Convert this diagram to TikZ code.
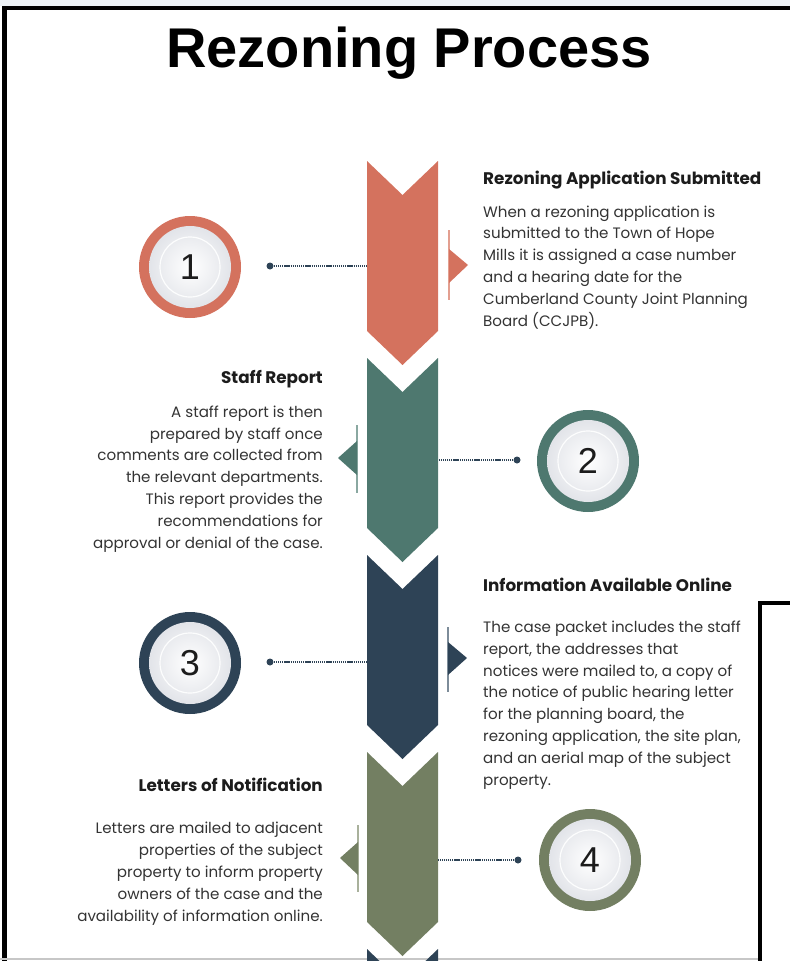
\documentclass[tikz,border=0pt]{standalone}
\usepackage{fontspec}
\setmainfont{Poppins}
\newfontfamily\titlefont{Liberation Sans}
\definecolor{corange}{HTML}{D4725E}
\definecolor{corangel}{HTML}{E39F90}
\definecolor{cteal}{HTML}{4E786F}
\definecolor{ctealL}{HTML}{8AA8A1}
\definecolor{cnavy}{HTML}{2E4356}
\definecolor{cnavyL}{HTML}{7D8C99}
\definecolor{colive}{HTML}{737F62}
\definecolor{coliveL}{HTML}{A9B19C}
\definecolor{ctext}{HTML}{333333}
\definecolor{chead}{HTML}{1C1C1C}
\definecolor{discgray}{HTML}{E2E4E9}
\definecolor{topstrip}{HTML}{EEF2F7}
\tikzset{
  ring/.style={circle, inner sep=0pt, minimum size=102pt, fill=#1},
  disc/.style={circle, inner sep=0pt, minimum size=82pt, shading=radial, inner color=white, outer color=discgray},
  innerring/.style={draw=white, line width=1.2pt, opacity=0.9},
  numtext/.style={font=\titlefont\fontsize{36}{36}\selectfont, text=chead, inner sep=0pt},
  dotnode/.style={circle, fill=cnavy, inner sep=0pt, minimum size=7pt},
  dotline/.style={draw=cnavy, line width=1.8pt, dash pattern=on 1.3pt off 0.8pt},
  headtext/.style={font=\bfseries\fontsize{16.8}{18}\selectfont, text=chead, inner sep=0pt},
  bodytext/.style={font=\fontsize{15.1}{21.8}\selectfont, text=ctext, inner sep=0pt},
  frameline/.style={draw=black, line width=4.5pt},
}
\begin{document}
\begin{tikzpicture}[x=1pt,y=-1pt]
\useasboundingbox (0,0) rectangle (790,961);
\clip (0,0) rectangle (790,961);
% top strip
\fill[topstrip] (0,0) rectangle (790,6);
% frame lines
\draw[frameline] (4.5,6) -- (4.5,961);
\draw[frameline] (2,8) -- (790,8);
\draw[frameline] (760,961) -- (760,603) -- (790,603);
\draw[draw=black!22, line width=2pt] (0,959) -- (758,959);
% title
\node[font=\titlefont\bfseries\fontsize{56}{56}\selectfont, text=black, inner sep=0pt, anchor=base] (title) at (409,67) {Rezoning Process};
% chevrons
\foreach \t/\c in {161/corange,358/cteal,555/cnavy,752/colive,949/cnavy}
  \fill[\c] (367,\t) -- (402.5,\t+34) -- (438,\t) -- (438,\t+170) -- (402.5,\t+204) -- (367,\t+170) -- cycle;
% side markers
\draw[corangel, line width=1.6pt] (449,230) -- (449,300);
\fill[corange] (449,249) -- (468,265) -- (449,283) -- cycle;
\draw[ctealL, line width=1.6pt] (357,425) -- (357,493);
\fill[cteal] (357,441) -- (338,458) -- (357,475) -- cycle;
\draw[cnavyL, line width=1.6pt] (448,627) -- (448,692);
\fill[cnavy] (448,642) -- (467,658) -- (448,675) -- cycle;
\draw[coliveL, line width=1.6pt] (358,825) -- (358,892);
\fill[colive] (358,842) -- (340,858) -- (358,875) -- cycle;
% edge coordinates
\coordinate (e1) at (367,266);
\coordinate (e2) at (438,460);
\coordinate (e3) at (367,662);
\coordinate (e4) at (438,860);
% circles
\foreach \n/\x/\y/\c in {1/190/267/corange, 2/588/461/cteal, 3/190/663/cnavy, 4/590/860/colive}{
  \node[ring=\c] (c\n) at (\x,\y) {};
  \node[disc] (d\n) at (c\n.center) {};
  \draw[innerring] (c\n.center) circle (30);
  \node[numtext] (n\n) at (c\n.center) {\n};
}
% dots and connectors
\node[dotnode] (p1) at (270,266) {};
\node[dotnode] (p2) at (517,460) {};
\node[dotnode] (p3) at (270,662) {};
\node[dotnode] (p4) at (518,860) {};
\draw[dotline] (p1) -- (e1);
\draw[dotline] (p2) -- (e2);
\draw[dotline] (p3) -- (e3);
\draw[dotline] (p4) -- (e4);
% texts (multi-line nodes: base anchor = baseline of last line)
\node[headtext, anchor=base west] (h1) at (483,184) {Rezoning Application Submitted};
\node[bodytext, anchor=base west, align=left] (b1) at (483,326) {When a rezoning application is\\submitted to the Town of Hope\\Mills it is assigned a case number\\and a hearing date for the\\Cumberland County Joint Planning\\Board (CCJPB).};
\node[headtext, anchor=base east] (h2) at (323,383) {Staff Report};
\node[bodytext, anchor=base east, align=right] (b2) at (323,548) {A staff report is then\\prepared by staff once\\comments are collected from\\the relevant departments.\\This report provides the\\recommendations for\\approval or denial of the case.};
\node[headtext, anchor=base west] (h3) at (483,591) {Information Available Online};
\node[bodytext, anchor=base west, align=left] (b3) at (483,785) {The case packet includes the staff\\report, the addresses that\\notices were mailed to, a copy of\\the notice of public hearing letter\\for the planning board, the\\rezoning application, the site plan,\\and an aerial map of the subject\\property.};
\node[headtext, anchor=base east] (h4) at (323,791) {Letters of Notification};
\node[bodytext, anchor=base east, align=right] (b4) at (323,921) {Letters are mailed to adjacent\\properties of the subject\\property to inform property\\owners of the case and the\\availability of information online.};
\end{tikzpicture}
\end{document}
